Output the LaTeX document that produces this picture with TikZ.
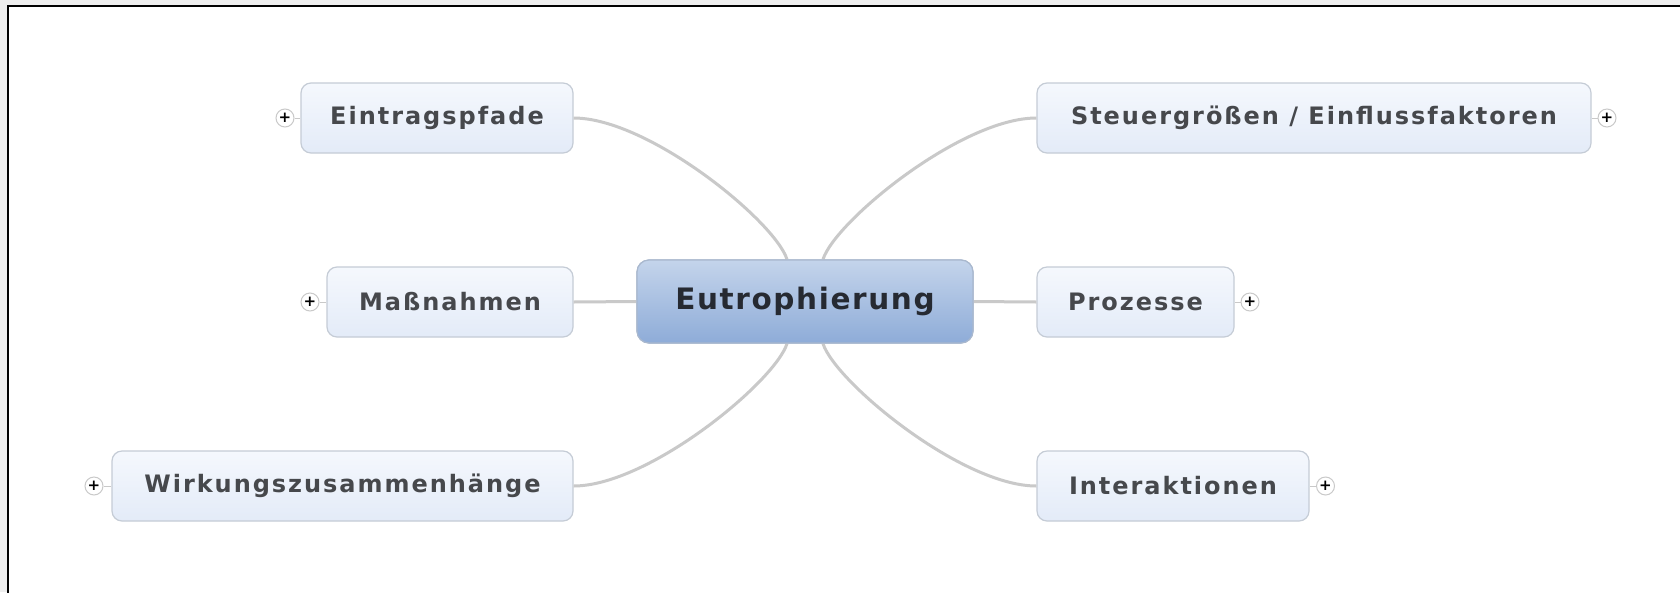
\documentclass[tikz,border=0pt]{standalone}
\usepackage{fontspec}
\setmainfont{DejaVu Sans}
\newfontfamily\branchfont[LetterSpace=8.2]{DejaVu Sans}
\newfontfamily\centerfont[LetterSpace=5.5]{DejaVu Sans}
\usetikzlibrary{calc}
\definecolor{pagegray}{HTML}{EEEEEE}
\definecolor{linegray}{HTML}{C9C9C9}
\definecolor{boxborder}{HTML}{C5CCD6}
\definecolor{boxtop}{HTML}{F5F8FD}
\definecolor{boxbot}{HTML}{E3EBF8}
\definecolor{ctop}{HTML}{C4D4EB}
\definecolor{cbot}{HTML}{8EACD8}
\definecolor{cborder}{HTML}{A9B8CE}
\definecolor{btext}{HTML}{46484C}
\definecolor{ctext}{HTML}{262A32}
\tikzset{
  topic/.style={draw=boxborder, line width=1.2pt, rounded corners=10pt,
    top color=boxtop, bottom color=boxbot, minimum height=70pt,
    inner sep=0pt, text=btext, font=\branchfont\fontsize{24}{28}\selectfont\bfseries},
  central/.style={draw=cborder, line width=1.2pt, rounded corners=12pt,
    top color=ctop, bottom color=cbot, minimum height=83pt, minimum width=336pt,
    inner sep=0pt, text=ctext, font=\centerfont\fontsize{29.5}{34}\selectfont\bfseries},
  conn/.style={draw=linegray, line width=3pt},
  plusbox/.style={circle, draw=linegray, fill=white, line width=1pt,
    minimum size=18pt, inner sep=0pt, font=\fontsize{15}{15}\selectfont\bfseries},
  stub/.style={draw=linegray, line width=1pt}
}
\begin{document}
\begin{tikzpicture}[x=1pt,y=-1pt]
\clip (0,0) rectangle (1680,592);
\fill[pagegray] (0,0) rectangle (1680,592);
\fill[white] (8,6) rectangle (1690,600);
\draw[black, line width=2.6pt] (8,600) -- (8,6) -- (1690,6);

% nodes
\node[central] (c) at (805,301.5) {Eutrophierung};
\node[topic, minimum width=272pt] (e) at (437,118) {Eintragspfade};
\node[topic, minimum width=246pt] (m) at (450,302) {Maßnahmen};
\node[topic, minimum width=461pt] (w) at (342.5,486) {Wirkungszusammenhänge};
\node[topic, minimum width=554pt] (s) at (1314,118) {Steuergrößen / Einflussfaktoren};
\node[topic, minimum width=197pt] (p) at (1135.5,302) {Prozesse};
\node[topic, minimum width=272pt] (i) at (1173,486) {Interaktionen};

% attachment points on central box
\coordinate (ctl) at ($(c.north)+(-18,0)$);
\coordinate (ctr) at ($(c.north)+(18,0)$);
\coordinate (cbl) at ($(c.south)+(-18,0)$);
\coordinate (cbr) at ($(c.south)+(18,0)$);

% connectors
\draw[conn] (e.east) .. controls +(75,0) and +(-12,-38) .. (ctl);
\draw[conn] (s.west) .. controls +(-75,0) and +(12,-38) .. (ctr);
\draw[conn] (w.east) .. controls +(75,0) and +(-12,38) .. (cbl);
\draw[conn] (i.west) .. controls +(-75,0) and +(12,38) .. (cbr);
\draw[conn] (m.east) -- (c.west);
\draw[conn] (c.east) -- (p.west);
\node[central] at (c) {Eutrophierung};

% plus markers
\node[plusbox] (pe) at (285,118) {+};
\node[plusbox] (pm) at (310,302) {+};
\node[plusbox] (pw) at (94,486) {+};
\node[plusbox] (ps) at (1607,118) {+};
\node[plusbox] (pp) at (1250,302) {+};
\node[plusbox] (pi) at (1325.5,486) {+};
\draw[stub] (pe.east) -- (e.west);
\draw[stub] (pm.east) -- (m.west);
\draw[stub] (pw.east) -- (w.west);
\draw[stub] (ps.west) -- (s.east);
\draw[stub] (pp.west) -- (p.east);
\draw[stub] (pi.west) -- (i.east);
\end{tikzpicture}
\end{document}
